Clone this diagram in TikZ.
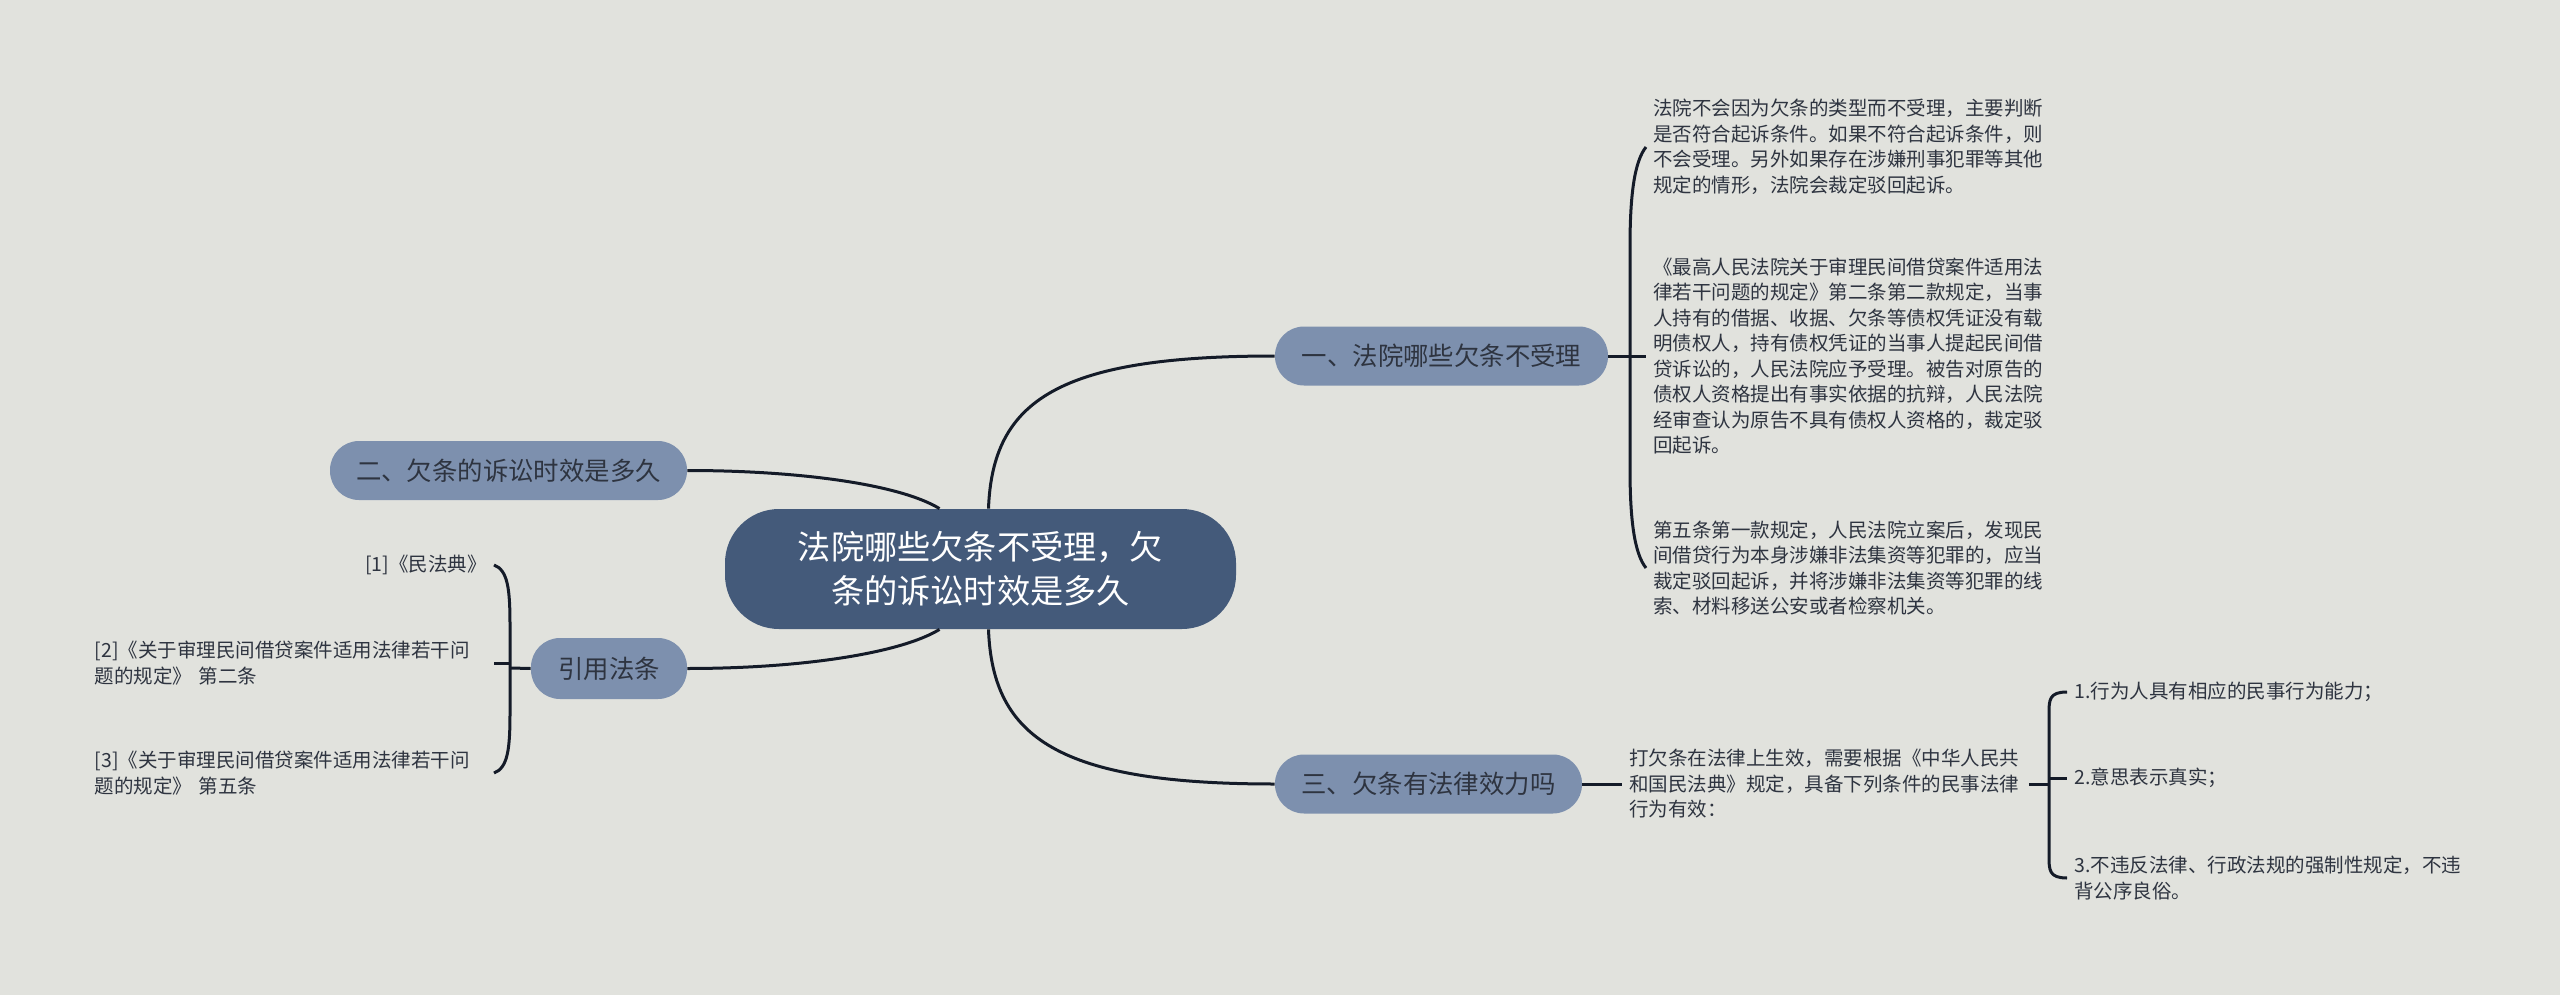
\documentclass[tikz,border=0pt]{standalone}
\usepackage{fontspec}
\newfontfamily\cjk{Noto Sans CJK SC}
\usetikzlibrary{calc}
\definecolor{bgc}{HTML}{E1E2DD}
\definecolor{centralc}{HTML}{445A7A}
\definecolor{branchc}{HTML}{7D90AE}
\definecolor{txtc}{HTML}{2E3440}
\definecolor{connc}{HTML}{141B28}
\tikzset{
  conn/.style={draw=connc, line width=1.5pt},
  central/.style={fill=centralc, text=white, rounded corners=27pt, align=center,
    minimum width=255.5pt, minimum height=60pt, inner sep=0pt,
    font=\cjk\fontsize{16.6pt}{22pt}\selectfont},
  branch/.style={fill=branchc, text=txtc, rounded corners=14.5pt, align=center,
    minimum height=29.5pt, inner sep=0pt,
    font=\cjk\fontsize{12.7pt}{15pt}\selectfont},
  leaf/.style={text=txtc, inner xsep=3.5pt, inner ysep=1pt, align=left,
    font=\cjk\fontsize{9.75pt}{12.75pt}\selectfont},
  leafw/.style={leaf, text width=196pt}
}
\begin{document}
\begin{tikzpicture}[x=0.5pt, y=-0.5pt]
\useasboundingbox (0,0) rectangle (2560,995);
\fill[bgc] (0,0) rectangle (2560,995);

% nodes
\node[central] (c) at (980.5,569) {法院哪些欠条不受理，欠\\条的诉讼时效是多久};
\node[branch, minimum width=166.5pt] (e1) at (1441.5,356) {一、法院哪些欠条不受理};
\node[branch, minimum width=178.5pt] (e2) at (508.5,470.5) {二、欠条的诉讼时效是多久};
\node[branch, minimum width=78pt, minimum height=30.5pt] (e3) at (609,668.5) {引用法条};
\node[branch, minimum width=153.5pt] (e4) at (1428.5,784) {三、欠条有法律效力吗};

\node[leafw, anchor=west] (t1) at (1646,147) {法院不会因为欠条的类型而不受理，主要判断\\是否符合起诉条件。如果不符合起诉条件，则\\不会受理。另外如果存在涉嫌刑事犯罪等其他\\规定的情形，法院会裁定驳回起诉。};
\node[leafw, anchor=west] (t2) at (1646,356) {《最高人民法院关于审理民间借贷案件适用法\\律若干问题的规定》第二条第二款规定，当事\\人持有的借据、收据、欠条等债权凭证没有载\\明债权人，持有债权凭证的当事人提起民间借\\贷诉讼的，人民法院应予受理。被告对原告的\\债权人资格提出有事实依据的抗辩，人民法院\\经审查认为原告不具有债权人资格的，裁定驳\\回起诉。};
\node[leafw, anchor=west] (t3) at (1646,568) {第五条第一款规定，人民法院立案后，发现民\\间借贷行为本身涉嫌非法集资等犯罪的，应当\\裁定驳回起诉，并将涉嫌非法集资等犯罪的线\\索、材料移送公安或者检察机关。};

\node[leafw, anchor=west] (t4) at (1622,784) {打欠条在法律上生效，需要根据《中华人民共\\和国民法典》规定，具备下列条件的民事法律\\行为有效：};
\node[leaf, anchor=west] (i1) at (2067,692) {1.行为人具有相应的民事行为能力；};
\node[leaf, anchor=west] (i2) at (2067,778) {2.意思表示真实；};
\node[leafw, anchor=west] (i3) at (2067,878) {3.不违反法律、行政法规的强制性规定，不违\\背公序良俗。};

\node[leaf, anchor=east] (r1) at (494,565) {[1]《民法典》};
\node[leafw, anchor=east] (r2) at (494,663) {[2]《关于审理民间借贷案件适用法律若干问\\题的规定》 第二条};
\node[leafw, anchor=east] (r3) at (494,773) {[3]《关于审理民间借贷案件适用法律若干问\\题的规定》 第五条};

% spine coordinates
\coordinate (s1) at (1630,356);
\coordinate (s3) at (510,668);
\coordinate (s4) at (2049,784);

% central connectors
\draw[conn] ($(c.north)+(8,0)$) .. controls ($(c.north)+(12,-109)$) and ($(e1.west)+(-215,0)$) .. (e1.west);
\draw[conn] ($(c.south)+(8,0)$) .. controls ($(c.south)+(12,109)$) and ($(e4.west)+(-215,0)$) .. (e4.west);
\draw[conn] ($(c.north)+(-41,0)$) .. controls ($(c.north)+(-80,-24)$) and ($(e2.east)+(113,0)$) .. (e2.east);
\draw[conn] ($(c.south)+(-41,0)$) .. controls ($(c.south)+(-80,24)$) and ($(e3.east)+(113,0)$) .. (e3.east);

% branch one bracket
\draw[conn] (e1.east) -- (t2.west);
\draw[conn] (t1.west) .. controls ($(s1|-t1.west)+(4,15)$) and ($(s1|-t1.west)+(0,50)$) .. ($(s1|-t1.west)+(0,100)$)
  -- ($(s1|-t3.west)+(0,-100)$) .. controls ($(s1|-t3.west)+(0,-50)$) and ($(s1|-t3.west)+(4,-15)$) .. (t3.west);

% branch three
\draw[conn] (e4.east) -- (t4.west);
\draw[conn] (t4.east) -- (s4);
\draw[conn] (s4|-i2.west) -- (i2.west);
\draw[conn] (i1.west) .. controls (s4|-i1.west) and ($(s4|-i1.west)+(0,8)$) .. ($(s4|-i1.west)+(0,22)$)
  -- ($(s4|-i3.west)+(0,-22)$) .. controls ($(s4|-i3.west)+(0,-8)$) and (s4|-i3.west) .. (i3.west);

% references bracket
\draw[conn] (e3.west) -- (s3);
\draw[conn] (s3|-r2.east) -- (r2.east);
\draw[conn] (r1.east) .. controls ($(s3|-r1.east)+(-2,5)$) and ($(s3|-r1.east)+(0,25)$) .. ($(s3|-r1.east)+(0,60)$)
  -- ($(s3|-r3.east)+(0,-60)$) .. controls ($(s3|-r3.east)+(0,-25)$) and ($(s3|-r3.east)+(-2,-5)$) .. (r3.east);
\end{tikzpicture}
\end{document}
